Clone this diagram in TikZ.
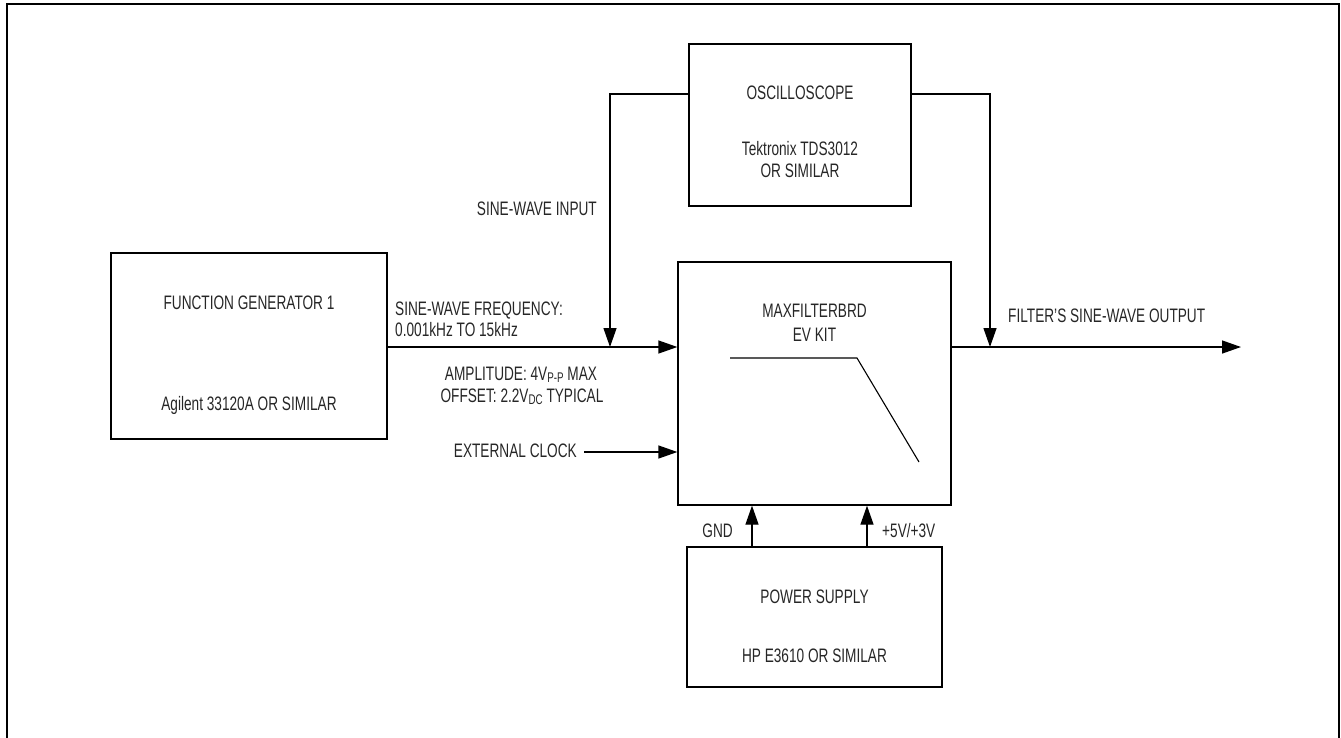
\documentclass[tikz,border=0pt]{standalone}
\usepackage{fontspec}
\setmainfont{Liberation Sans}[FakeStretch=0.7]
\usetikzlibrary{arrows.meta}
\newcommand{\sbs}[1]{{\fontsize{14}{14}\selectfont\raisebox{-2.5pt}{#1}}}
\begin{document}
\begin{tikzpicture}[x=1pt,y=-1pt,
  box/.style={draw, line width=1.3pt, inner sep=0pt},
  wire/.style={line width=1.3pt},
  arr/.style={line width=1.3pt, -{Triangle[length=19pt,width=13pt]}},
  txt/.style={inner sep=0pt, font=\fontsize{19.5}{22}\selectfont, text=black!85},
  every node/.append style={font=\fontsize{19.5}{22}\selectfont}]
\useasboundingbox (0,0) rectangle (1341,737);
\draw[line width=2.5pt] (7,742) -- (7,4) -- (1339,4) -- (1339,742);

% boxes
\node[box, minimum width=276pt, minimum height=186pt] (fg) at (249,346) {};
\node[box, minimum width=222pt, minimum height=162pt] (scope) at (800,125) {};
\node[box, minimum width=273pt, minimum height=243pt] (main) at (814.5,383.5) {};
\node[box, minimum width=255pt, minimum height=140pt] (ps) at (814.5,617) {};

% box texts
\node[txt, anchor=base] (fgt1) at (249,309) {FUNCTION GENERATOR 1};
\node[txt, anchor=base] (fgt2) at (249,410) {Agilent 33120A OR SIMILAR};
\node[txt, anchor=base] (sct1) at (800,99) {OSCILLOSCOPE};
\node[txt, anchor=base] (sct2) at (800,155) {Tektronix TDS3012};
\node[txt, anchor=base] (sct3) at (800,177) {OR SIMILAR};
\node[txt, anchor=base] (mt1) at (814.5,317) {MAXFILTERBRD};
\node[txt, anchor=base] (mt2) at (814.5,341) {EV KIT};
\node[txt, anchor=base] (pst1) at (814.5,603) {POWER SUPPLY};
\node[txt, anchor=base] (pst2) at (814.5,662) {HP E3610 OR SIMILAR};

% low-pass symbol
\coordinate (lp1) at (730,358);
\coordinate (lp2) at (857,358);
\coordinate (lp3) at (919,462);
\draw[line width=1.1pt] (lp1) -- (lp2) -- (lp3);

% coordinates
\coordinate (sig) at (387,347);
\coordinate (sl) at (610,94);
\coordinate (sr) at (990,94);
\coordinate (outend) at (1241,347);
\coordinate (clk) at (584,452);
\coordinate (gndx) at (752,0);
\coordinate (vccx) at (867,0);

% connectors
\draw[arr] (sig) -- (sig -| main.west);
\draw[arr] (scope.west |- sl) -- (sl) -- (sl |- sig);
\draw[arr] (scope.east |- sr) -- (sr) -- (sr |- sig);
\draw[arr] (main.east |- outend) -- (outend);
\draw[arr] (clk) -- (clk -| main.west);
\draw[arr] (ps.north -| gndx) -- (main.south -| gndx);
\draw[arr] (ps.north -| vccx) -- (main.south -| vccx);

% labels
\node[txt, anchor=base east] (lsin) at (597,215) {SINE-WAVE INPUT};
\node[txt, anchor=base west] (lfreq1) at (395,315) {SINE-WAVE FREQUENCY:};
\node[txt, anchor=base west] (lfreq2) at (395,336) {0.001kHz TO 15kHz};
\node[txt, anchor=base] (lamp) at (521,380) {AMPLITUDE: 4V\sbs{P-P} MAX};
\node[txt, anchor=base] (loff) at (522,402) {OFFSET: 2.2V\sbs{DC} TYPICAL};
\node[txt, anchor=base east] (lclk) at (577,457) {EXTERNAL CLOCK};
\node[txt, anchor=base west] (lout) at (1008,322) {FILTER'S SINE-WAVE OUTPUT};
\node[txt, anchor=base east] (lgnd) at (733,537) {GND};
\node[txt, anchor=base west] (lvcc) at (882,537) {+5V/+3V};
\end{tikzpicture}
\end{document}
